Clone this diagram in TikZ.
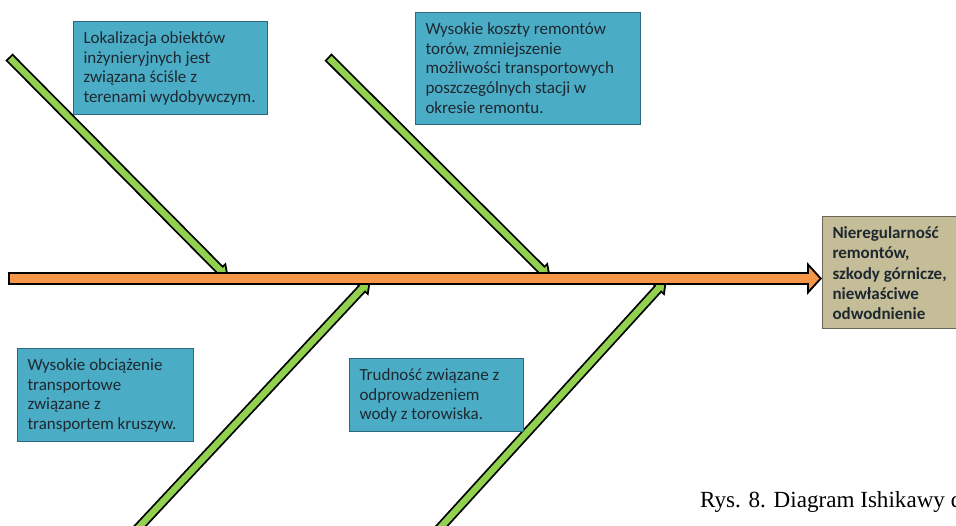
\documentclass[tikz,border=0pt]{standalone}
\usepackage{fontspec}
\setmainfont{Liberation Serif}
\newfontfamily\boxfont{Carlito}
\usetikzlibrary{arrows.meta,positioning}

\definecolor{boneGreen}{RGB}{146,208,80}
\definecolor{spineOrange}{RGB}{247,150,70}
\definecolor{causeBlue}{RGB}{75,172,198}
\definecolor{causeEdge}{RGB}{45,105,125}
\definecolor{effectTan}{RGB}{196,189,151}
\definecolor{effectEdge}{RGB}{105,100,85}
\definecolor{inkGrey}{RGB}{30,40,48}

% text of a box: width, height, lines
\newcommand{\boxtext}[3]{\parbox[t][#2][t]{#1}{\strut #3}}

\begin{document}
\begin{tikzpicture}[x=1pt,y=-1pt,
  cause/.style={draw=causeEdge, fill=causeBlue, line width=1pt, anchor=north west,
    inner xsep=10pt, inner ysep=8pt, text=inkGrey,
    font=\boxfont\fontsize{17}{19.8}\selectfont},
  effect/.style={cause, draw=effectEdge, fill=effectTan,
    font=\boxfont\bfseries\fontsize{17}{20.2}\selectfont},
  bone edge/.style={draw=black, line width=10pt, -{Triangle[length=14pt,width=18pt]}},
  bone fill/.style={draw=boneGreen, line width=6.4pt, shorten <=1.8pt, shorten >=3.3pt,
    -{Triangle[length=8.9pt,width=11.4pt]}},
  spine edge/.style={draw=black, line width=13pt, -{Triangle[length=15pt,width=32pt]}},
  spine fill/.style={draw=spineOrange, line width=9pt, shorten <=2pt, shorten >=2.7pt,
    -{Triangle[length=10.3pt,width=22pt]}},
  caption/.style={font=\fontsize{23.1}{28}\selectfont, text=black, anchor=base west, inner sep=0pt}]
\useasboundingbox (0,0) rectangle (956,525);
\clip (0,0) rectangle (956,525);

% ends of the spine and the bones
\coordinate (tail) at (8,278.5);
\coordinate (t1) at (9,57);    \coordinate (h1) at (229,279);
\coordinate (t2) at (328,57);  \coordinate (h2) at (551,279);
\coordinate (t3) at (127,540); \coordinate (h3) at (371,279);
\coordinate (t4) at (429,540); \coordinate (h4) at (667,279);

% bones
\foreach \i in {1,2,3,4}{
  \draw[bone edge] (t\i) -- (h\i);
  \draw[bone fill] (t\i) -- (h\i);
}

% causes
\node[cause] (loc) at (73,21) {\boxtext{174pt}{77pt}{Lokalizacja obiektów\\ inżynieryjnych jest\\ związana ściśle z\\ terenami wydobywczym.}};
\node[cause] (cost) at (415,12) {\boxtext{205pt}{96pt}{Wysokie koszty remontów\\ torów, zmniejszenie\\ możliwości transportowych\\ poszczególnych stacji w\\ okresie remontu.}};
\node[cause] (load) at (17,348) {\boxtext{156pt}{77pt}{Wysokie obciążenie\\ transportowe\\ związane z\\ transportem kruszyw.}};
\node[cause] (water) at (349,358) {\boxtext{154pt}{57pt}{Trudność związane z\\ odprowadzeniem\\ wody z torowiska.}};

% effect
\node[effect] (effect) at (822,216) {\boxtext{118pt}{96pt}{Nieregularność\\ remontów,\\ szkody górnicze,\\ niewłaściwe\\ odwodnienie}};

% spine
\draw[spine edge] (tail) -- (tail -| effect.west);
\draw[spine fill] (tail) -- (tail -| effect.west);

\node[caption] (cap) at (700,507) {Rys. 8. Diagram Ishikawy d};
\end{tikzpicture}
\end{document}
